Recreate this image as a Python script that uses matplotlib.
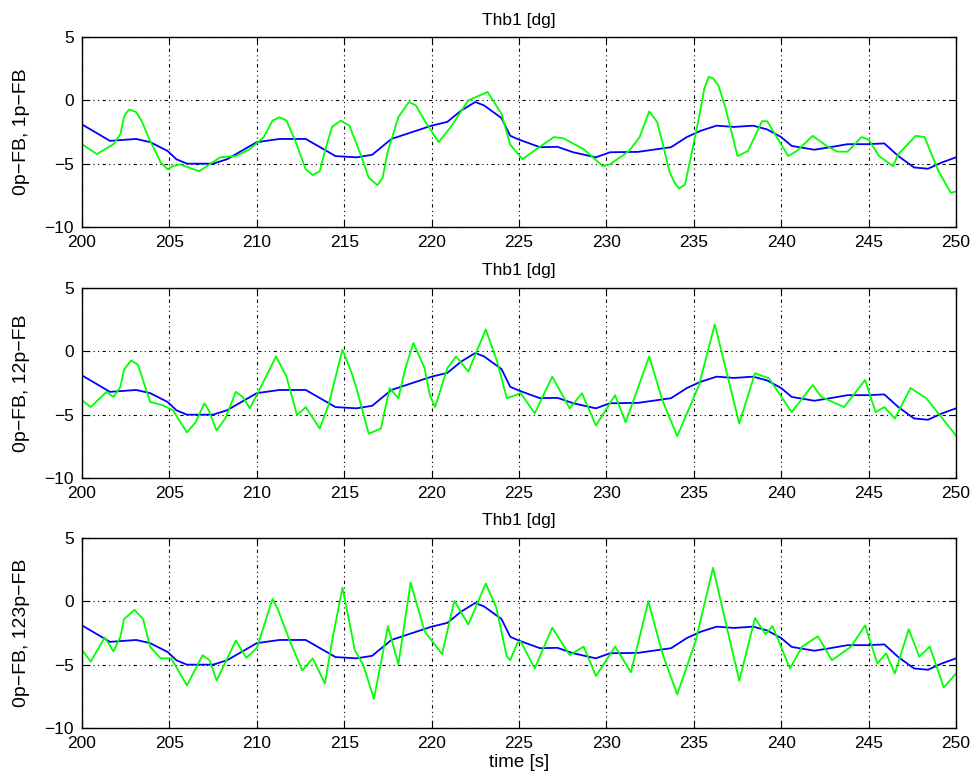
import numpy as np
import matplotlib
matplotlib.use("Agg")
import matplotlib.pyplot as plt

plt.rcParams['font.family'] = ['Liberation Sans', 'DejaVu Sans']

# 0p-FB (blue), same in all three panels
t_blue = [200, 201.6, 203.1, 203.9, 204.9, 205.4, 206, 207.5, 208.3, 210, 211.3, 212.8,
          214, 214.5, 215.7, 216.6, 217.7, 218.9, 220, 220.9, 221.7, 222.5, 223, 224,
          224.5, 225, 226.2, 227.2, 228.1, 229.4, 230.2, 231.8, 233.7, 234.6, 235.4,
          236.3, 237.3, 238.4, 239.2, 240, 240.6, 241.9, 242.8, 243.8, 245, 245.9,
          246.7, 247.6, 248.4, 249.2, 250]
v_blue = [-1.9, -3.2, -3.05, -3.3, -4.0, -4.65, -5.0, -5.0, -4.65, -3.3, -3.05, -3.05,
          -4.0, -4.4, -4.5, -4.3, -3.05, -2.5, -2.0, -1.7, -0.8, -0.13, -0.4, -1.4,
          -2.8, -3.1, -3.7, -3.67, -4.1, -4.5, -4.1, -4.07, -3.7, -2.9, -2.4,
          -2.0, -2.1, -2.0, -2.3, -2.9, -3.6, -3.9, -3.7, -3.46, -3.46, -3.4,
          -4.4, -5.3, -5.4, -4.9, -4.5]

# 1p-FB
t_g1 = [200, 200.85, 201.8, 202.2, 202.4, 202.5, 202.7, 203.1, 203.4, 203.9, 204.5,
        204.9, 205.2, 205.6, 206.7, 207.9, 208.8, 209.6, 210.4, 210.9, 211.3, 211.7,
        212.2, 212.8, 213.2, 213.6, 213.9, 214.3, 214.8, 215.3, 216, 216.4, 216.9,
        217.2, 217.5, 218.1, 218.7, 219.1, 219.6, 220.4, 221.1, 222.1, 223.2, 224,
        224.5, 225.2, 225.85, 227, 227.55, 228.7, 229.8, 230.2, 231.3, 231.9, 232.45,
        232.9, 233.2, 233.6, 233.9, 234.15, 234.5, 235.3, 235.6, 235.85, 236.1, 236.4,
        236.8, 237.5, 238.1, 238.9, 239.2, 240.4, 240.9, 241.8, 242.6, 243.2, 243.8,
        244.6, 245, 245.6, 246.4, 246.7, 247.7, 248.2, 249, 249.7, 250]
v_g1 = [-3.46, -4.25, -3.46, -2.66, -1.33, -1.06, -0.72, -0.93, -1.6, -3.2, -4.9,
        -5.45, -5.2, -5.05, -5.6, -4.5, -4.4, -3.86, -2.9, -1.6, -1.33, -1.6,
        -3.2, -5.45, -5.9, -5.6, -4.0, -2.1, -1.6, -2.0, -4.5, -6.1, -6.7,
        -6.1, -4.0, -1.33, -0.13, -0.4, -1.6, -3.3, -2.1, 0.0, 0.66, -1.06,
        -3.5, -4.65, -4.0, -2.9, -3.0, -3.86, -5.2, -5.05, -4.0, -2.9, -0.88,
        -1.7, -3.3, -5.6, -6.5, -6.97, -6.65, -1.33, 0.93, 1.86, 1.73, 1.2,
        -0.53, -4.4, -4.0, -1.65, -1.65, -4.4, -4.0, -2.8, -3.6, -4.05, -4.05,
        -2.9, -3.1, -4.4, -5.2, -4.25, -2.8, -2.9, -5.6, -7.3, -7.2]

# 12p-FB
t_g2 = [200, 200.5, 201.4, 201.8, 202.2, 202.4, 202.8, 203.2, 203.9, 204.6, 205.2,
        206, 206.5, 207, 207.25, 207.7, 208.2, 208.8, 209.2, 209.6, 210.2, 211.1,
        211.7, 212.3, 212.8, 213.6, 214.1, 214.9, 215.4, 215.7, 216.4, 217.1, 217.6,
        218.1, 218.5, 218.96, 219.6, 219.9, 220.2, 220.9, 221.4, 222.1, 223.1, 223.75,
        224.3, 224.8, 225.1, 225.9, 226.9, 227.9, 228.6, 229.4, 230.5, 231.1, 232.45,
        233.2, 234.05, 235.3, 236.2, 237.6, 238.5, 239.3, 240.6, 241.8, 242.3, 243.6,
        244.8, 245.4, 245.9, 246.5, 247.4, 248.3, 250]
v_g2 = [-3.86, -4.4, -3.2, -3.6, -2.8, -1.46, -0.72, -1.06, -4.0, -4.25, -4.65,
        -6.4, -5.6, -4.1, -4.65, -6.25, -5.3, -3.2, -3.6, -4.5, -2.9, -0.4,
        -2.0, -5.05, -4.4, -6.1, -4.25, 0.13, -1.6, -2.9, -6.5, -6.1, -2.9,
        -3.7, -1.33, 0.66, -1.33, -3.46, -4.4, -1.33, -0.4, -1.6, 1.73, -0.8,
        -3.7, -3.46, -3.3, -4.9, -2.0, -4.5, -3.3, -5.85, -3.46, -5.6, -0.4,
        -3.86, -6.7, -2.66, 2.13, -5.7, -1.73, -2.13, -4.8, -2.66, -3.6, -4.4,
        -2.26, -4.8, -4.4, -5.3, -2.9, -3.7, -6.65]

# 123p-FB
t_g3 = [200, 200.5, 201.3, 201.8, 202.2, 202.4, 203, 203.5, 203.9, 204.5, 205.1,
        206, 206.9, 207.3, 207.7, 208.8, 209.4, 210, 210.9, 211.2, 211.9, 212.6,
        213.2, 213.9, 214.3, 214.9, 215.4, 215.6, 216.1, 216.7, 217.3, 217.5, 218.1,
        218.8, 219.6, 220.6, 221.3, 222.1, 223.1, 223.7, 224.3, 224.5, 224.9, 225.1,
        225.9, 226.9, 227.9, 228.7, 229.4, 230.5, 231.4, 232.4, 233.2, 234.05, 235.1,
        236.1, 237.6, 238.5, 239.1, 239.5, 240.5, 241.2, 242.1, 242.9, 244, 244.8,
        245.5, 246, 246.5, 247.3, 247.9, 248.5, 249.3, 250]
v_g3 = [-3.84, -4.76, -2.85, -3.95, -2.77, -1.42, -0.67, -1.42, -3.6, -4.5, -4.5,
        -6.64, -4.25, -4.65, -6.26, -3.1, -4.46, -3.7, 0.19, -0.62, -3.17, -5.46,
        -4.5, -6.5, -3.17, 1.08, -2.36, -3.84, -5.05, -7.7, -3.44, -1.96, -4.97,
        1.48, -2.37, -4.17, 0.05, -1.83, 1.4, -0.48, -4.35, -4.65, -3.3, -3.16,
        -5.3, -2.08, -4.24, -3.57, -5.9, -3.57, -5.6, 0.0, -4.1, -7.35, -3.16,
        2.65, -6.27, -1.32, -2.6, -1.95, -5.3, -3.57, -2.76, -4.65, -3.57, -1.9,
        -4.9, -4.1, -5.7, -2.2, -4.38, -3.57, -6.8, -5.7]

ylabels = ["0p\u2212FB, 1p\u2212FB", "0p\u2212FB, 12p\u2212FB", "0p\u2212FB, 123p\u2212FB"]
greens = [(t_g1, v_g1), (t_g2, v_g2), (t_g3, v_g3)]
xticks = np.arange(200, 251, 5)
yticks = [-10, -5, 0, 5]

fig = plt.figure(figsize=(9.75, 7.8), dpi=100)
tops = [37, 288, 538]
for i in range(3):
    top = 1 - tops[i] / 780
    h = 190 / 780
    ax = fig.add_axes([82 / 975, top - h, 874 / 975, h])
    ax.plot(t_blue, v_blue, color=(0, 0, 1), lw=1.3)
    tg, vg = greens[i]
    ax.plot(tg, vg, color=(0, 1, 0), lw=1.3)
    ax.set_xlim(200, 250)
    ax.set_ylim(-10, 5)
    ax.set_xticks(xticks)
    ax.set_yticks(yticks)
    ax.grid(True, color='black', linestyle=(0, (1, 3, 3, 3, 1, 3)), lw=0.8)
    ax.tick_params(direction='in', top=True, right=True, labelsize=12.5, length=5, pad=6)
    for s in ax.spines.values():
        s.set_linewidth(1.0)
    ax.set_title("Thb1 [dg]", fontsize=12.5, pad=9)
    ax.set_ylabel(ylabels[i], fontsize=14, labelpad=10)
    if i == 2:
        ax.set_xlabel("time [s]", fontsize=13.5, labelpad=2)

fig.savefig("out.png", dpi=100)
